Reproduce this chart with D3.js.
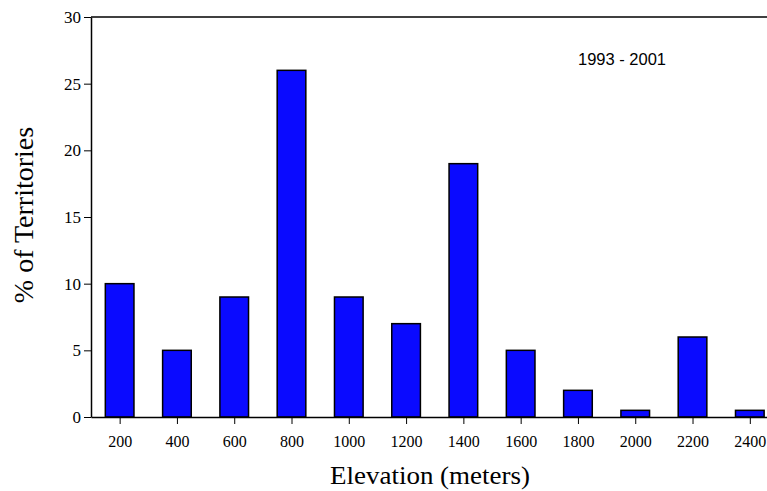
<!doctype html>
<html lang="en">
<head>
  <meta charset="utf-8">
  <title>Elevation of Territories</title>
</head>
<style>
body { margin: 0; background: #fff; }
text { font-family: "Liberation Serif", "Times New Roman", serif; fill: #000; }
</style>
<body>
  <script src="https://cdn.jsdelivr.net/npm/d3@7"></script>
  <script>

  // elevation classes (meters) and % of territories
  var elevations = [200, 400, 600, 800, 1000, 1200, 1400, 1600, 1800, 2000, 2200, 2400];
  var percents = [10, 5, 9, 26, 9, 7, 19, 5, 2, 0.5, 6, 0.5];
  var yTicks = [0, 5, 10, 15, 20, 25, 30];

  var W = 767, H = 491;
  var svg = d3.select("body").append("svg")
    .attr("width", W)
    .attr("height", H);

  var plotL = 91, plotR = 767, plotT = 17, plotB = 417;

  var x = d3.scaleLinear()
    .domain([100, 2460])
    .range([plotL, plotR]);

  var y = d3.scaleLinear()
    .domain([0, 30])
    .range([plotB, plotT]);

  // bars
  svg.selectAll(".bar")
    .data(elevations)
    .join("rect")
    .classed("bar", true)
    .attr("x", function (d) { return x(d - 50); })
    .attr("width", function (d) { return x(d + 50) - x(d - 50); })
    .attr("y", function (d, i) { return y(percents[i]); })
    .attr("height", function (d, i) { return y(0) - y(percents[i]); })
    .attr("fill", "#0a0aff")
    .attr("stroke", "#000")
    .attr("stroke-width", 1.5);

  // top frame line
  svg.append("line")
    .attr("x1", plotL).attr("x2", plotR)
    .attr("y1", plotT).attr("y2", plotT)
    .attr("stroke", "#000").attr("stroke-width", 1.5);

  // y axis
  var yAxis = svg.append("g")
    .attr("transform", "translate(" + plotL + ",0)")
    .call(d3.axisLeft(y).tickValues(yTicks).tickSize(7).tickSizeOuter(0).tickPadding(3));
  yAxis.select(".domain").attr("stroke-width", 1.5);
  yAxis.selectAll("text")
    .attr("font-size", "17px")
    .attr("font-family", "'Liberation Serif', serif");

  // x axis
  var xAxis = svg.append("g")
    .attr("transform", "translate(0," + plotB + ")")
    .call(d3.axisBottom(x).tickValues(elevations).tickFormat(d3.format("d"))
      .tickSize(7).tickSizeOuter(0).tickPadding(12));
  xAxis.select(".domain").attr("stroke-width", 1.5);
  xAxis.selectAll(".tick line").attr("y1", 1);
  xAxis.selectAll("text")
    .attr("font-size", "16px")
    .attr("font-family", "'Liberation Serif', serif");

  // titles
  svg.append("text")
    .attr("x", 430)
    .attr("y", 484)
    .attr("text-anchor", "middle")
    .attr("font-size", "25px")
    .attr("textLength", 200)
    .attr("lengthAdjust", "spacingAndGlyphs")
    .text("Elevation (meters)");

  svg.append("text")
    .attr("transform", "translate(33,215) rotate(-90)")
    .attr("text-anchor", "middle")
    .attr("font-size", "28px")
    .text("% of Territories");

  svg.append("text")
    .attr("x", 622)
    .attr("y", 65)
    .attr("text-anchor", "middle")
    .attr("font-size", "16.5px")
    .style("font-family", "'Liberation Sans', Arial, sans-serif")
    .text("1993 - 2001");

  </script>
</body>
</html>
